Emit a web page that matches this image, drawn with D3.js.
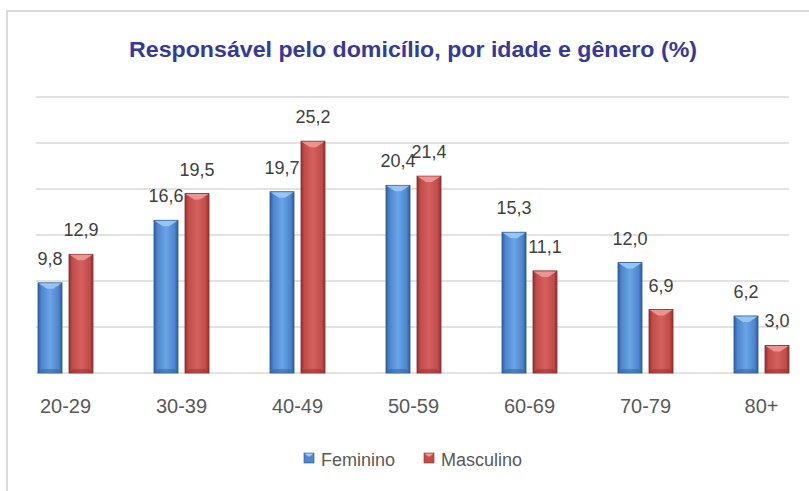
<!DOCTYPE html>
<html>
<head>
<meta charset="utf-8">
<script src="https://cdn.jsdelivr.net/npm/d3@7"></script>
<style>
  html, body { margin: 0; padding: 0; background: #fff; }
  svg { display: block; }
</style>
</head>
<body>
<svg id="chart" width="809" height="491"></svg>
<script>
const categories = ["20-29", "30-39", "40-49", "50-59", "60-69", "70-79", "80+"];
const seriesNames = ["Feminino", "Masculino"];
const feminino = [9.8, 16.6, 19.7, 20.4, 15.3, 12.0, 6.2];
const masculino = [12.9, 19.5, 25.2, 21.4, 11.1, 6.9, 3.0];
const yTicks = [0, 5, 10, 15, 20, 25, 30];
const titleText = "Responsável pelo domicílio, por idade e gênero (%)";

const colors = {
  Feminino: { base: "#4f86cf", light: "#6aa3e6", dark: "#2f5f9e", bevel: "#9cc9f5", stroke: "#2a5590" },
  Masculino: { base: "#c24d4a", light: "#d4615e", dark: "#94302e", bevel: "#ee9a97", stroke: "#862c2a" }
};

const svg = d3.select("#chart");
const defs = svg.append("defs");
seriesNames.forEach((s, i) => {
  const c = colors[s];
  const g = defs.append("linearGradient").attr("id", "grad" + i)
    .attr("x1", "0").attr("x2", "1").attr("y1", "0").attr("y2", "0");
  g.append("stop").attr("offset", "0").attr("stop-color", c.dark);
  g.append("stop").attr("offset", "0.15").attr("stop-color", c.base);
  g.append("stop").attr("offset", "0.5").attr("stop-color", c.light);
  g.append("stop").attr("offset", "0.85").attr("stop-color", c.base);
  g.append("stop").attr("offset", "1").attr("stop-color", c.dark);
});

// frame
svg.append("rect").attr("x", 7).attr("y", 11).attr("width", 900).attr("height", 600)
  .attr("fill", "none").attr("stroke", "#d9d9d9").attr("stroke-width", 2);

// title
svg.append("text").attr("x", 413).attr("y", 57).attr("text-anchor", "middle")
  .attr("font-family", "'Liberation Sans Narrow', 'Liberation Sans', Arial, sans-serif")
  .attr("font-weight", "bold").attr("font-size", 22).attr("fill", "#35399a")
  .attr("textLength", 568).attr("lengthAdjust", "spacingAndGlyphs")
  .text(titleText);

const x0 = d3.scaleBand().domain(categories).range([7.5, 819.5]).paddingInner(0).paddingOuter(0);
const x1 = d3.scaleBand().domain(seriesNames).range([0, 55]).paddingInner(7 / 31).paddingOuter(0);
const groupOffset = (x0.bandwidth() - 55) / 2;
const y = d3.scaleLinear().domain([0, 30]).range([373, 97]);

// gridlines
svg.append("g").selectAll("line").data(yTicks).join("line")
  .attr("x1", 36).attr("x2", 789)
  .attr("y1", d => y(d)).attr("y2", d => y(d))
  .attr("stroke", "#d9d9d9").attr("stroke-width", 1.5);

const data = [];
categories.forEach((c, i) => {
  data.push({ cat: c, s: "Feminino", si: 0, v: feminino[i] });
  data.push({ cat: c, s: "Masculino", si: 1, v: masculino[i] });
});

const bars = svg.append("g").selectAll("g").data(data).join("g")
  .attr("transform", d => `translate(${x0(d.cat) + groupOffset + x1(d.s)},0)`);
const bw = x1.bandwidth();

bars.append("rect")
  .attr("x", 0).attr("y", d => y(d.v)).attr("width", bw).attr("height", d => y(0) - y(d.v))
  .attr("fill", d => `url(#grad${d.si})`)
  .attr("stroke", d => colors[d.s].stroke).attr("stroke-width", 0.8);

// top bevel
bars.append("path")
  .attr("d", d => {
    const t = y(d.v);
    return `M0.5,${t + 0.5} L${bw - 0.5},${t + 0.5} L${bw / 2 + 3},${t + 6} L${bw / 2 - 3},${t + 6} Z`;
  })
  .attr("fill", d => colors[d.s].bevel).attr("opacity", 0.9);
// bottom shade
bars.append("path")
  .attr("d", d => {
    const b = y(0);
    return `M0.5,${b - 0.5} L${bw - 0.5},${b - 0.5} L${bw - 4},${b - 4} L4,${b - 4} Z`;
  })
  .attr("fill", d => colors[d.s].dark).attr("opacity", 0.5);

// data labels
svg.append("g").selectAll("text").data(data).join("text")
  .attr("x", d => x0(d.cat) + groupOffset + x1(d.s) + bw / 2)
  .attr("y", d => y(d.v) - 18)
  .attr("text-anchor", "middle")
  .attr("font-family", "'Liberation Sans', Arial, sans-serif")
  .attr("font-size", 18).attr("fill", "#404040")
  .text(d => d.v.toFixed(1).replace(".", ","));

// category axis labels
svg.append("g").selectAll("text").data(categories).join("text")
  .attr("x", d => x0(d) + x0.bandwidth() / 2)
  .attr("y", 413)
  .attr("text-anchor", "middle")
  .attr("font-family", "'Liberation Sans', Arial, sans-serif")
  .attr("font-size", 20).attr("fill", "#595959")
  .text(d => d);

// legend
const legendItems = [
  { s: "Feminino", x: 304 },
  { s: "Masculino", x: 424 }
];
const lg = svg.append("g").selectAll("g").data(legendItems).join("g")
  .attr("transform", d => `translate(${d.x},453)`);
lg.append("rect").attr("width", 10).attr("height", 10)
  .attr("fill", d => colors[d.s].base).attr("stroke", d => colors[d.s].stroke).attr("stroke-width", 0.6);
lg.append("path").attr("d", "M0.5,0.5 L9.5,0.5 L6,3.5 L4,3.5 Z")
  .attr("fill", d => colors[d.s].bevel);
lg.append("text").attr("x", 17).attr("y", 13)
  .attr("font-family", "'Liberation Sans', Arial, sans-serif")
  .attr("font-size", 18).attr("fill", "#595959")
  .text(d => d.s);
</script>
</body>
</html>
